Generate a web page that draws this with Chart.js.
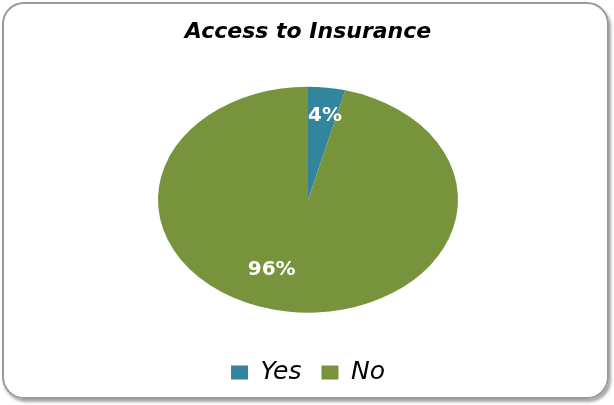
<!DOCTYPE html>
<html>
<head>
<meta charset="utf-8">
<script src="https://cdn.jsdelivr.net/npm/chart.js@4/dist/chart.umd.min.js"></script>
<style>
  html, body { margin: 0; padding: 0; background: #fff; }
  #wrap { position: relative; width: 614px; height: 405px; }
  #frame {
    position: absolute; left: 2px; top: 2px; width: 603px; height: 393px;
    border: 2px solid #9a9a9a; border-radius: 22px;
    box-shadow: 2px 3px 3px rgba(0, 0, 0, 0.35);
    box-sizing: content-box;
  }
  #pie { position: absolute; left: 0; top: 0; }
</style>
</head>
<body>
<div id="wrap">
  <div id="frame"></div>
  <canvas id="pie" width="614" height="405"></canvas>
</div>
<script>
// data
let categories = ['Yes', 'No'];
let shares = [4, 96];
let sliceColors = ['#31859c', '#77933c'];
let pctLabels = ['4%', '96%'];

// label placement (fraction of radius, angle shift in degrees)
let labelRadius = [0.75, 0.67];
let labelShift = [1.5, 14];

// Excel draws this pie as an ellipse, squash it vertically
let squash = 0.753;

let ellipsePlugin = {
  id: 'ellipse',
  beforeDatasetsDraw: function(chart) {
    let arc = chart.getDatasetMeta(0).data[0];
    let ctx = chart.ctx;
    ctx.save();
    ctx.translate(arc.x, arc.y);
    ctx.scale(1, squash);
    ctx.translate(-arc.x, -arc.y);
  },
  afterDatasetsDraw: function(chart) {
    let ctx = chart.ctx;
    ctx.restore();
    // percentage labels
    let meta = chart.getDatasetMeta(0);
    ctx.save();
    ctx.fillStyle = '#fff';
    ctx.font = 'bold 20px "DejaVu Sans"';
    ctx.textAlign = 'center';
    ctx.textBaseline = 'middle';
    for (let i = 0; i < meta.data.length; i += 1) {
      let a = meta.data[i];
      let mid = (a.startAngle + a.endAngle) / 2 + labelShift[i] * Math.PI / 180;
      let r = a.outerRadius * labelRadius[i];
      let x = a.x + Math.cos(mid) * r;
      let y = a.y + Math.sin(mid) * r * squash;
      ctx.fillText(pctLabels[i], x, y);
    }
    ctx.restore();
  }
};

let ctx = document.getElementById('pie').getContext('2d');
let chart = new Chart(ctx, {
  type: 'pie',
  data: {
    labels: categories,
    datasets: [{
      data: shares,
      backgroundColor: sliceColors,
      borderColor: '#ffffff',
      borderWidth: 0,
      radius: 150
    }]
  },
  options: {
    responsive: false,
    animation: false,
    layout: {
      padding: { top: 10, bottom: 10, left: 2, right: 0 }
    },
    plugins: {
      title: {
        display: true,
        text: 'Access to Insurance',
        color: '#000',
        font: { family: 'DejaVu Sans', size: 22, style: 'italic', weight: 'bold' },
        padding: { top: 9, bottom: 14 }
      },
      legend: {
        position: 'bottom',
        labels: {
          color: '#000',
          font: { family: 'DejaVu Sans', size: 25, style: 'italic' },
          boxWidth: 17,
          boxHeight: 14,
          padding: 20
        }
      },
      tooltip: { enabled: false }
    }
  },
  plugins: [ellipsePlugin]
});
</script>
</body>
</html>
